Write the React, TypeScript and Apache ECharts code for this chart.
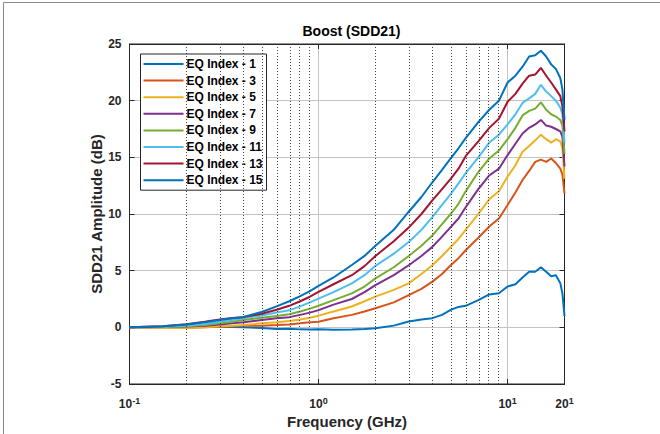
import React, { useEffect, useRef } from "react";
import * as echarts from "echarts";

// Frequency grid (GHz)
const freqs = [0.1, 0.15, 0.2, 0.25, 0.3, 0.35, 0.4, 0.5, 0.6, 0.7, 0.8, 0.9, 1.0, 1.2, 1.5, 1.75, 2.0, 2.5, 3.0, 3.5, 4.0, 4.5, 5.0, 5.5, 6.0, 7.0, 8.0, 9.0, 10, 11, 12, 13, 14, 15, 16, 17, 18, 19, 19.5, 20];

const eq1 = [0, 0.02, 0.05, 0.05, 0.05, 0.02, 0.0, -0.05, -0.15, -0.12, -0.18, -0.2, -0.18, -0.22, -0.2, -0.15, -0.08, 0.15, 0.52, 0.7, 0.81, 1.1, 1.54, 1.8, 1.9, 2.4, 2.9, 3.0, 3.6, 3.8, 4.4, 4.9, 4.9, 5.3, 4.9, 4.5, 4.6, 3.9, 3.0, 1.0];
const eq3 = [0, -0.02, -0.03, 0.0, 0.05, 0.1, 0.15, 0.15, 0.2, 0.25, 0.35, 0.45, 0.5, 0.8, 1.1, 1.4, 1.69, 2.2, 2.85, 3.4, 4.03, 4.7, 5.48, 6.1, 6.8, 7.9, 8.9, 9.6, 10.8, 11.9, 13.0, 13.8, 14.6, 14.8, 14.6, 14.9, 14.5, 14.0, 13.5, 11.8];
const eq5 = [0, -0.03, -0.05, 0.0, 0.1, 0.15, 0.2, 0.35, 0.45, 0.55, 0.7, 0.85, 1.03, 1.4, 1.84, 2.3, 2.71, 3.3, 3.88, 4.7, 5.48, 6.3, 7.09, 7.8, 8.6, 10.0, 11.3, 12.0, 13.3, 14.3, 15.5, 16.0, 16.5, 17.0, 16.6, 16.3, 16.6, 16.4, 15.8, 13.1];
const eq7 = [0, 0.02, 0.07, 0.15, 0.25, 0.35, 0.45, 0.65, 0.8, 0.9, 1.1, 1.3, 1.52, 2.0, 2.5, 3.1, 3.73, 4.6, 5.48, 6.3, 7.1, 8.0, 8.84, 9.6, 10.6, 12.2, 13.4, 14.0, 15.2, 16.2, 17.1, 17.6, 17.9, 18.3, 17.8, 17.7, 17.5, 17.3, 16.8, 14.2];
const eq9 = [0, 0.03, 0.1, 0.2, 0.35, 0.5, 0.65, 0.85, 1.0, 1.15, 1.4, 1.65, 1.9, 2.4, 3.0, 3.6, 4.32, 5.3, 6.3, 7.2, 8.1, 9.1, 10.0, 10.9, 12.0, 13.7, 14.9, 15.6, 16.6, 17.6, 18.7, 19.1, 19.3, 19.85, 19.2, 18.8, 18.6, 18.3, 17.8, 15.3];
const eq11 = [0, 0.05, 0.15, 0.3, 0.5, 0.65, 0.8, 1.05, 1.3, 1.5, 1.85, 2.2, 2.54, 3.1, 3.88, 4.6, 5.43, 6.5, 7.53, 8.6, 9.72, 10.8, 11.76, 12.7, 13.6, 15.0, 16.3, 17.0, 17.9, 18.8, 19.8, 20.2, 20.6, 21.4, 20.8, 20.4, 20.0, 19.4, 18.8, 16.3];
const eq13 = [0, 0.1, 0.27, 0.5, 0.7, 0.82, 0.9, 1.2, 1.55, 1.9, 2.3, 2.7, 3.13, 3.8, 4.6, 5.4, 6.3, 7.6, 8.8, 10.0, 11.2, 12.2, 13.1, 14.0, 15.1, 16.4, 17.6, 18.4, 19.9, 20.6, 21.5, 22.2, 22.3, 22.9, 22.2, 21.6, 21.0, 20.4, 19.5, 17.3];
const eq15 = [0, 0.1, 0.25, 0.45, 0.65, 0.8, 0.92, 1.35, 1.85, 2.3, 2.75, 3.2, 3.66, 4.4, 5.5, 6.3, 7.2, 8.6, 10.2, 11.5, 12.8, 13.9, 14.9, 15.8, 16.7, 18.1, 19.2, 20.0, 21.6, 22.2, 23.0, 23.9, 24.0, 24.4, 23.9, 23.2, 22.8, 22.0, 21.0, 18.3];

const seriesNames = ["EQ Index - 1", "EQ Index - 3", "EQ Index - 5", "EQ Index - 7", "EQ Index - 9", "EQ Index - 11", "EQ Index - 13", "EQ Index - 15"];
const seriesValues = [eq1, eq3, eq5, eq7, eq9, eq11, eq13, eq15];
const seriesColors = ["#0072BD", "#D95319", "#EDB120", "#7E2F8E", "#77AC30", "#4DBEEE", "#A2142F", "#0072BD"];

// Axis ticks
const xMajorTicks = [0.1, 1, 10, 20];
const xMinorTicks = [0.2, 0.3, 0.4, 0.5, 0.6, 0.7, 0.8, 0.9, 2, 3, 4, 5, 6, 7, 8, 9];
const yMin = -5;
const yMax = 25;
const yStep = 5;

const FONT = "'Liberation Sans', Arial, Helvetica, sans-serif";
const AX = "#262626";

export default function App() {
  const ref = useRef<HTMLDivElement>(null);
  useEffect(() => {
    document.body.style.margin = "0";
    const chart = echarts.init(ref.current!, undefined, { renderer: "svg" });
    const lg = (v: number) => Math.log10(v);
    const series: any[] = seriesNames.map((name, i) => ({
      name,
      type: "line",
      symbol: "none",
      showSymbol: false,
      z: 3,
      lineStyle: { width: 2, color: seriesColors[i] },
      itemStyle: { color: seriesColors[i] },
      data: freqs.map((f, j) => [lg(f), seriesValues[i][j]]),
    }));
    series.push({
      name: "minorGrid",
      type: "line",
      data: [],
      z: 1,
      markLine: {
        silent: true,
        symbol: "none",
        label: { show: false },
        lineStyle: { type: [1, 2], color: "#444", width: 1 },
        data: xMinorTicks.map((v) => ({ xAxis: lg(v) })),
      },
    });
    const supRich = {
      b: { fontSize: 12, fontWeight: "bold", color: AX, fontFamily: FONT },
      s: { fontSize: 9, fontWeight: "bold", color: AX, fontFamily: FONT, verticalAlign: "top", padding: [0, 0, 7, 0] },
    };
    chart.setOption({
      animation: false,
      backgroundColor: "#fff",
      textStyle: { fontFamily: FONT },
      title: {
        text: "Boost (SDD21)",
        left: 346.5,
        textAlign: "center",
        top: 19,
        textStyle: { fontSize: 14, fontWeight: "bold", color: "#000", fontFamily: FONT },
      },
      grid: { left: 129.5, top: 44, width: 435, height: 342, show: true, borderColor: AX, borderWidth: 1, backgroundColor: "#fff", z: 0 },
      legend: {
        data: seriesNames,
        orient: "vertical",
        left: 140.5,
        top: 54,
        padding: [4, 4, 4, 3],
        itemWidth: 40,
        itemHeight: 14,
        itemGap: 4.6,
        backgroundColor: "#fff",
        borderColor: AX,
        borderWidth: 1,
        borderRadius: 0,
        icon: "path://M0,6.5L40,6.5L40,8.5L0,8.5Z",
        textStyle: { fontSize: 12, fontWeight: "bold", color: "#000", fontFamily: FONT, padding: [0, 0, 0, -2] },
      },
      xAxis: [
        {
          type: "value",
          min: lg(0.1),
          max: lg(20),
          interval: 1,
          axisLine: { show: true, onZero: false, lineStyle: { color: AX } },
          axisTick: { show: true, inside: true, length: 5, lineStyle: { color: AX }, customValues: xMajorTicks.map(lg) },
          splitLine: { show: true, lineStyle: { color: "#c4c4c4", width: 1 } },
          axisLabel: {
            customValues: xMajorTicks.map(lg),
            margin: 12,
            showMaxLabel: true,
            showMinLabel: true,
            formatter: (v: number) => {
              if (Math.abs(v - lg(20)) < 1e-6) return "{b|20}{s|1}";
              return "{b|10}{s|" + Math.round(v) + "}";
            },
            rich: supRich,
          },
          name: "Frequency (GHz)",
          nameLocation: "middle",
          nameGap: 30,
          nameMoveOverlap: false,
          nameTextStyle: { fontSize: 15, fontWeight: "bold", color: AX, fontFamily: FONT },
        },
        {
          type: "value",
          position: "top",
          min: lg(0.1),
          max: lg(20),
          interval: 1,
          axisLine: { show: true, onZero: false, lineStyle: { color: AX } },
          axisTick: { show: true, inside: true, length: 5, lineStyle: { color: AX }, customValues: xMajorTicks.map(lg) },
          axisLabel: { show: false },
          splitLine: { show: false },
        },
      ],
      yAxis: [
        {
          type: "value",
          min: yMin,
          max: yMax,
          interval: yStep,
          axisLine: { show: true, onZero: false, lineStyle: { color: AX } },
          axisTick: { show: true, inside: true, length: 5, lineStyle: { color: AX } },
          splitLine: { show: true, lineStyle: { color: "#c4c4c4", width: 1 } },
          axisLabel: { fontSize: 12, fontWeight: "bold", color: AX, fontFamily: FONT, margin: 8 },
          name: "SDD21 Amplitude (dB)",
          nameLocation: "middle",
          nameGap: 26,
          nameMoveOverlap: false,
          nameTextStyle: { fontSize: 15, fontWeight: "bold", color: AX, fontFamily: FONT },
        },
        {
          type: "value",
          position: "right",
          min: yMin,
          max: yMax,
          interval: yStep,
          axisLine: { show: true, onZero: false, lineStyle: { color: AX } },
          axisTick: { show: true, inside: true, length: 5, lineStyle: { color: AX } },
          axisLabel: { show: false },
          splitLine: { show: false },
        },
      ],
      graphic: [
        {
          type: "rect",
          shape: { x: 3.5, y: 2.5, width: 800, height: 600 },
          style: { fill: "none", stroke: "#8a8a8a", lineWidth: 1 },
          silent: true,
          z: 100,
        },
      ],
      series,
    });
    return () => chart.dispose();
  }, []);
  return <div ref={ref} style={{ position: "absolute", left: 0, top: 0, width: 660, height: 434 }} />;
}
